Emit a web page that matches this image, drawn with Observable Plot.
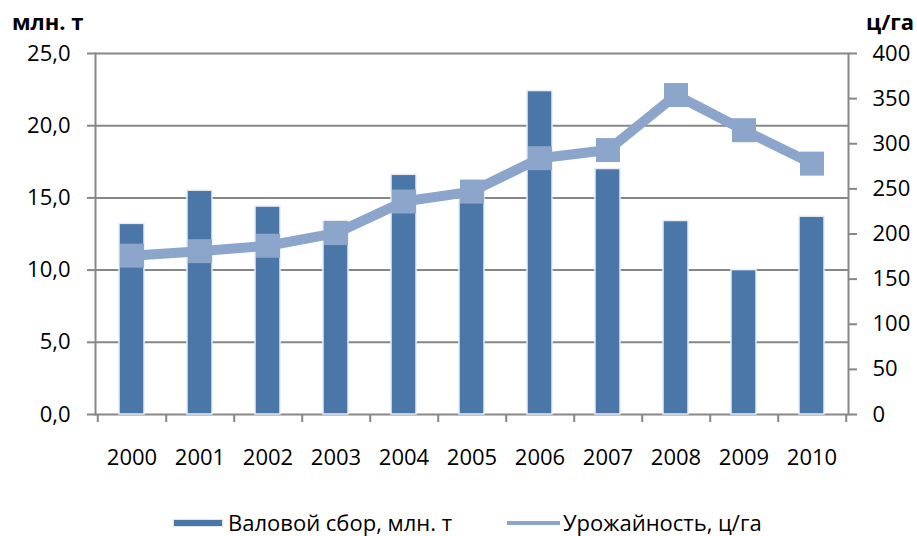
<!DOCTYPE html>
<html>
<head>
<meta charset="utf-8">
<script src="https://cdn.jsdelivr.net/npm/d3@7"></script>
<script src="https://cdn.jsdelivr.net/npm/@observablehq/plot@0.6"></script>
<style>
  html, body { margin: 0; padding: 0; background: #fff; }
  #wrap { width: 917px; font-family: "Open Sans", sans-serif; }
  #legend { position: relative; width: 917px; height: 46px; }
  #legend .sw1 { position: absolute; left: 173px; top: 29px; width: 48px; height: 6px; background: #4A76A8; border: 1px solid #dfe5ee; }
  #legend .sw2 { position: absolute; left: 507px; top: 31px; width: 53px; height: 4px; background: #8BA5CB; }
  #legend .t { position: absolute; font-size: 22px; line-height: 22px; color: #000; white-space: nowrap; }
</style>
</head>
<body>
<div id="wrap">
  <div id="chart"></div>
  <div id="legend">
    <div class="sw1"></div><span class="t" style="left:228px; top:21px;">Валовой сбор, млн. т</span>
    <div class="sw2"></div><span class="t" style="left:563px; top:21px;">Урожайность, ц/га</span>
  </div>
</div>
<script>
// ---- data ----
const years = ["2000","2001","2002","2003","2004","2005","2006","2007","2008","2009","2010"];
const harvest = [13.2, 15.5, 14.4, 13.4, 16.6, 15.5, 22.4, 17.0, 13.4, 10.0, 13.7];   // млн. т (left axis)
const yieldHa = [176, 181, 187, 201, 236, 247, 284, 293, 354, 315, 278];            // ц/га (right axis)
const leftTicks = [0, 5, 10, 15, 20, 25];
const rightTicks = [0, 50, 100, 150, 200, 250, 300, 350, 400];
const leftMax = 25, rightMax = 400;
const leftTitle = "млн. т";
const rightTitle = "ц/га";

const data = years.map((y, i) => ({year: y, harvest: harvest[i], yieldHa: yieldHa[i]}));
const k = leftMax / rightMax;

const W = 917, H = 490;
const mL = 95, mR = 69, mT = 53, mB = 76;
const pad = 0.635;
const step = (W - mL - mR) / years.length;
const grey = "#878787";
const barColor = "#4A76A8";
const lineColor = "#8BA5CB";

const chart = Plot.plot({
  width: W, height: H,
  marginLeft: mL, marginRight: mR, marginTop: mT, marginBottom: mB,
  style: {fontFamily: "Open Sans, sans-serif", fontSize: "22px", color: "#000", background: "#fff", overflow: "visible"},
  x: {type: "band", domain: years, paddingInner: pad, paddingOuter: pad / 2, align: 0.5, axis: null},
  y: {domain: [0, leftMax], axis: null},
  marks: [
    Plot.gridY(leftTicks, {stroke: grey, strokeOpacity: 1, strokeWidth: 2}),
    Plot.frame({anchor: "left", stroke: grey, strokeWidth: 2}),
    Plot.frame({anchor: "right", stroke: grey, strokeWidth: 2}),
    Plot.axisY({anchor: "left", ticks: leftTicks, tickSize: 8, tickPadding: 17, stroke: grey, strokeWidth: 2,
      tickFormat: d => d.toFixed(1).replace(".", ","), label: null, fill: "#000"}),
    Plot.axisY({anchor: "right", ticks: rightTicks.map(v => v * k), tickSize: 8, tickPadding: 16, stroke: grey, strokeWidth: 2,
      tickFormat: d => String(Math.round(d / k)), label: null, fill: "#000"}),
    Plot.axisX({anchor: "bottom", ticks: years, tickSize: 0, tickPadding: 35, label: null, fill: "#000"}),
    Plot.axisX({anchor: "bottom", ticks: years, tickSize: 8, dx: step / 2, tickFormat: () => "", label: null, stroke: grey, strokeWidth: 2}),
    Plot.axisX({anchor: "bottom", ticks: [years[0]], tickSize: 8, dx: -step / 2, tickFormat: () => "", label: null, stroke: grey, strokeWidth: 2}),
    Plot.barY(data, {x: "year", y: "harvest", fill: barColor, stroke: "#e9edf3", strokeWidth: 1.5}),
    Plot.line(data, {x: "year", y: d => d.yieldHa * k, stroke: lineColor, strokeWidth: 10, strokeLinejoin: "miter"}),
    Plot.dot(data, {x: "year", y: d => d.yieldHa * k, symbol: "square", r: 24 / Math.sqrt(Math.PI), fill: lineColor, stroke: "none"})
  ]
});

document.getElementById("chart").appendChild(chart);

const svg = d3.select(chart);
svg.append("text").attr("x", 12).attr("y", 30).attr("font-size", 22).attr("font-weight", "bold")
  .attr("text-anchor", "start").attr("fill", "#000").text(leftTitle);
svg.append("text").attr("x", 866).attr("y", 30).attr("font-size", 22).attr("font-weight", "bold")
  .attr("text-anchor", "start").attr("fill", "#000").text(rightTitle);
</script>
</body>
</html>
